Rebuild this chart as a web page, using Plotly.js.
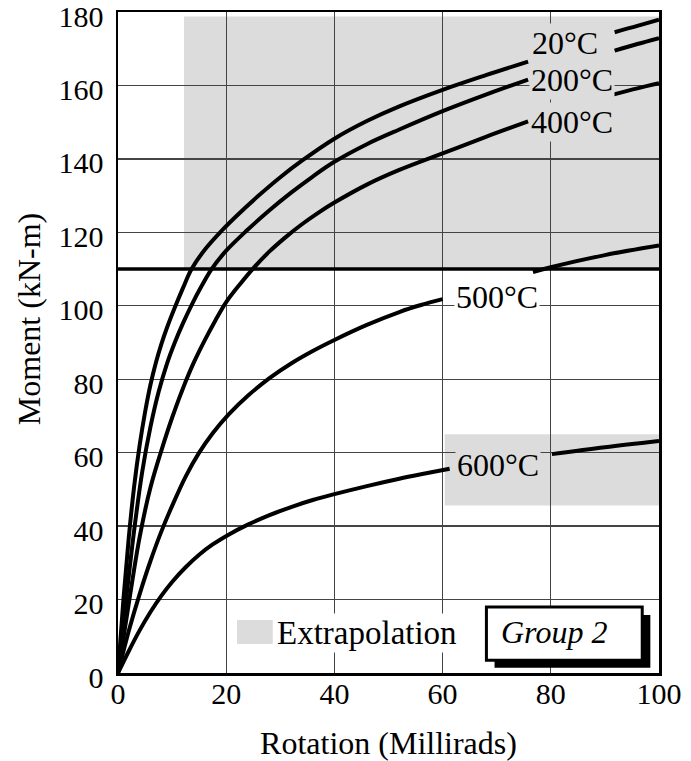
<!DOCTYPE html>
<html>
<head>
<meta charset="utf-8">
<script src="https://cdn.plot.ly/plotly-3.0.1.min.js"></script>
<style>html,body{margin:0;padding:0;background:#fff;}#chart{width:691px;height:761px;}</style>
</head>
<body>
<div id="chart"></div>
<script>
// ---- data (Rotation in millirads, Moment in kN-m) ----
const rot20a = [0, 1, 2, 3, 4, 5, 6, 7, 8, 9, 10.5, 12, 13.6, 16, 19.2, 22, 26, 30, 34, 40, 46, 52, 60, 68, 75.8];
const mom20a = [0, 20, 37, 51, 62, 71, 78.5, 84.5, 89.5, 93.8, 99.5, 104.8, 110, 115.2, 120.5, 124.6, 130, 135, 139.5, 145.5, 150.3, 154.3, 158.8, 162.8, 166.5];
const rot20b = [91.8, 96, 100];
const mom20b = [174.5, 176.2, 177.9];

const rot200a = [0, 1.5, 3, 4.5, 6, 7.5, 9, 10.5, 12, 13.6, 15.5, 17.3, 20, 23.8, 28, 32, 36, 40, 46, 52, 60, 68, 75.8];
const mom200a = [0, 20, 39, 55, 67, 76.5, 84, 90, 95.2, 100.2, 105.5, 110, 115, 120.5, 126, 130.8, 135.2, 139.2, 144, 148, 153, 157.5, 161.6];
const rot200b = [91.8, 96, 100];
const mom200b = [169.5, 171.3, 172.9];

const rot400a = [0, 2, 4, 6, 8, 10, 12, 14, 16, 18, 20, 22.5, 25, 28, 31, 34, 37, 40, 46, 52, 60, 68, 75.8];
const mom400a = [0, 19, 37, 50.5, 60.5, 69.5, 77.5, 84.5, 90.5, 96, 101, 105.8, 110.2, 114.8, 118.7, 122.2, 125.3, 128.1, 133, 137, 141.5, 146, 150.2];
const rot400b = [91.5, 96, 100];
const mom400b = [157.5, 159.2, 160.6];

const rot500a = [0, 2, 4, 6, 8, 10, 12.5, 15, 17.5, 20.5, 24, 28, 32, 36, 40, 46, 52, 56, 60];
const mom500a = [0, 11.5, 21.5, 30.5, 38.5, 45.5, 53.5, 60, 65.3, 70.5, 75.5, 80.3, 84.3, 87.7, 90.7, 94.8, 98.3, 100.2, 101.8];
const rot500b = [76.7, 80, 90, 100];
const mom500b = [109.2, 110.5, 113.8, 116.4];

const rot600a = [0, 2, 4, 6, 8, 10, 12.5, 15, 17.5, 20.6, 24, 28, 32, 36, 40, 46, 52, 56, 61.3];
const mom600a = [0, 6, 11.6, 16.6, 21, 24.8, 28.8, 32.2, 35, 37.8, 40.4, 43, 45.2, 47.1, 48.7, 50.9, 52.9, 54.1, 55.6];
const rot600b = [80.2, 90, 100];
const mom600b = [59.6, 61.5, 63.2];

const limitMoment = 110;

const curveLabels = ["20°C", "200°C", "400°C", "500°C", "600°C"];
const xTicks = [0, 20, 40, 60, 80, 100];
const yTicks = [0, 20, 40, 60, 80, 100, 120, 140, 160, 180];

// ---- styling ----
const FONT = '"Liberation Serif", "Times New Roman", Times, serif';
const GRAY = '#dcdcdc';
const lineStyle = {color: '#000', width: 4, shape: 'spline', smoothing: 1};

function seg(x, y) {
  return {x: x, y: y, type: 'scatter', mode: 'lines', line: lineStyle, hoverinfo: 'skip', showlegend: false};
}

const traces = [
  seg(rot20a, mom20a), seg(rot20b, mom20b),
  seg(rot200a, mom200a), seg(rot200b, mom200b),
  seg(rot400a, mom400a), seg(rot400b, mom400b),
  seg(rot500a, mom500a), seg(rot500b, mom500b),
  seg(rot600a, mom600a), seg(rot600b, mom600b)
];

function label(text, x, y, bg) {
  return {text: text, x: x, y: y, xref: 'x', yref: 'y', showarrow: false,
          font: {family: FONT, size: 32, color: '#000'}, bgcolor: bg, borderpad: 1,
          xanchor: 'center', yanchor: 'middle'};
}

const annotations = [
  label(curveLabels[0], 82.7, 171.6, GRAY),
  label(curveLabels[1], 84.0, 161.5, GRAY),
  label(curveLabels[2], 84.0, 150.1, GRAY),
  label(curveLabels[3], 70.0, 102.4, '#fff'),
  label(curveLabels[4], 70.3, 56.7, GRAY),
  {text: 'Extrapolation', x: 29.1, y: 10.8, xref: 'x', yref: 'y', showarrow: false,
   xanchor: 'left', yanchor: 'middle', bgcolor: '#fff', borderpad: 1,
   font: {family: FONT, size: 33, color: '#000'}},
  {text: '<i>Group 2</i>', x: 80.5, y: 11.2, xref: 'x', yref: 'y', showarrow: false,
   xanchor: 'center', yanchor: 'middle',
   font: {family: FONT, size: 32, color: '#000'}},
  {text: 'Moment (kN-m)', textangle: -90, x: -0.163, y: 0.535, xref: 'paper', yref: 'paper',
   showarrow: false, xanchor: 'center', yanchor: 'middle',
   font: {family: FONT, size: 32, color: '#000'}}
];

const shapes = [
  {type: 'rect', layer: 'below', xref: 'x', yref: 'y', x0: 12.2, x1: 100, y0: limitMoment, y1: 178.8,
   fillcolor: GRAY, line: {width: 0}},
  {type: 'rect', layer: 'below', xref: 'x', yref: 'y', x0: 60.4, x1: 100, y0: 45.6, y1: 65.0,
   fillcolor: GRAY, line: {width: 0}},
  {type: 'line', layer: 'above', xref: 'x', yref: 'y', x0: 0, x1: 100, y0: limitMoment, y1: limitMoment,
   line: {color: '#000', width: 3.5}},
  {type: 'rect', layer: 'above', xref: 'x', yref: 'y', x0: 22.0, x1: 28.6, y0: 7.9, y1: 14.4,
   fillcolor: GRAY, line: {width: 0}},
  {type: 'rect', layer: 'above', xref: 'x', yref: 'y', x0: 69.6, x1: 98.4, y0: 1.4, y1: 15.8,
   fillcolor: '#000', line: {width: 0}},
  {type: 'rect', layer: 'above', xref: 'x', yref: 'y', x0: 68.1, x1: 96.9, y0: 3.5, y1: 18.0,
   fillcolor: '#fff', line: {color: '#000', width: 3}}
];

const layout = {
  width: 691, height: 761,
  margin: {l: 118, r: 32, t: 12, b: 88},
  paper_bgcolor: '#fff', plot_bgcolor: '#fff',
  font: {family: FONT, color: '#000'},
  showlegend: false,
  xaxis: {
    range: [0, 100], tickvals: xTicks, ticks: '', showgrid: true, gridcolor: '#444', gridwidth: 1.4,
    zeroline: false, showline: true, linecolor: '#000', linewidth: 2.5, mirror: true,
    tickfont: {family: FONT, size: 30, color: '#000'}, ticklabelstandoff: -8, ticklabeloverflow: 'allow',
    title: {text: 'Rotation (Millirads)', font: {family: FONT, size: 32, color: '#000'}, standoff: 28},
    fixedrange: true
  },
  yaxis: {
    range: [0, 180], tickvals: yTicks, ticks: '', showgrid: true, gridcolor: '#444', gridwidth: 1.4,
    zeroline: false, showline: true, linecolor: '#000', linewidth: 2.5, mirror: true,
    tickfont: {family: FONT, size: 30, color: '#000'}, ticklabelstandoff: 6, ticklabelshift: 4,
    ticklabeloverflow: 'allow',
    title: {text: ''},
    fixedrange: true
  },
  shapes: shapes,
  annotations: annotations
};

Plotly.newPlot('chart', traces, layout, {displayModeBar: false, staticPlot: true});
</script>
</body>
</html>
